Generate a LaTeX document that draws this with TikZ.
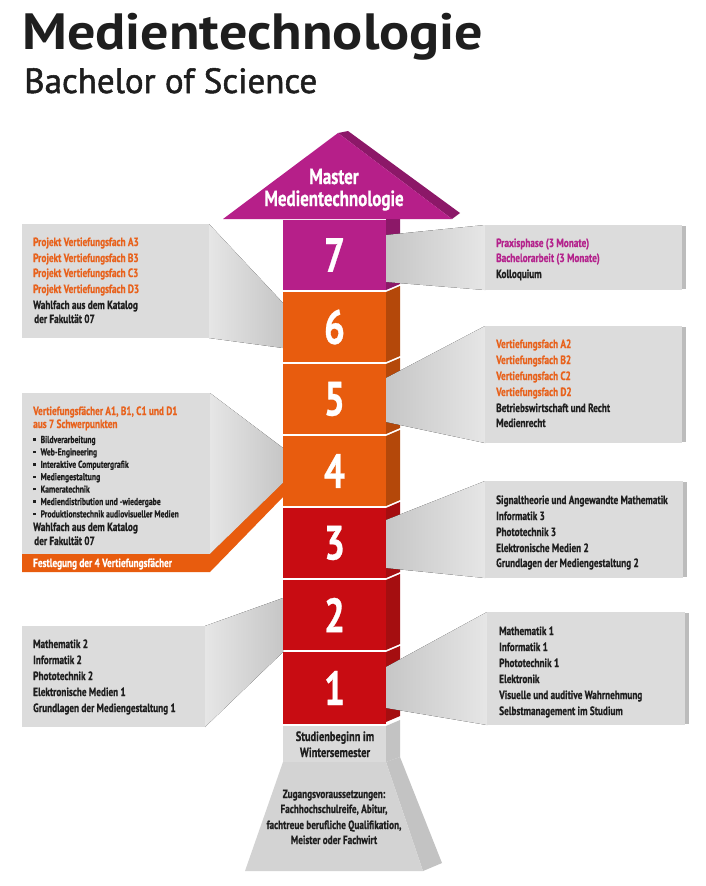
\documentclass[tikz,border=0pt]{standalone}
\usepackage{fontspec}
\setmainfont{PT Sans}
\newfontfamily\cf[FakeStretch=0.77,FakeBold=0.6]{PT Sans Bold}
\newfontfamily\tfont[FakeStretch=1.1]{PT Sans Bold}
\newfontfamily\sfont[FakeBold=1.5]{PT Sans}
\definecolor{mag}{RGB}{182,31,137}
\definecolor{magD}{RGB}{140,24,104}
\definecolor{org}{RGB}{232,92,14}
\definecolor{orgD}{RGB}{180,72,10}
\definecolor{redF}{RGB}{200,12,18}
\definecolor{redD}{RGB}{165,14,16}
\definecolor{boxg}{RGB}{220,220,220}
\definecolor{boxgD}{RGB}{188,188,188}
\definecolor{conD}{RGB}{198,198,198}
\definecolor{conL}{RGB}{230,230,230}
\definecolor{colG}{RGB}{218,218,218}
\definecolor{colGD}{RGB}{195,195,195}
\definecolor{txtO}{RGB}{232,98,28}
\definecolor{txtM}{RGB}{180,34,140}
\definecolor{txtK}{RGB}{30,30,30}
\tikzset{
  txt/.style={anchor=base west, inner sep=0pt, font=\cf\fontsize{12}{14}\selectfont, text=txtK},
  txo/.style={txt, text=txtO},
  txm/.style={txt, text=txtM},
  sm/.style={txt, font=\cf\fontsize{10}{12}\selectfont},
  ctr/.style={anchor=base, inner sep=0pt, font=\cf\fontsize{12}{14}\selectfont, text=txtK},
  ctrb/.style={ctr, font=\cf\fontsize{13.5}{15}\selectfont},
  num/.style={inner sep=0pt, font=\cf\fontsize{48}{48}\selectfont, text=white},
  mst/.style={anchor=base, inner sep=0pt, font=\cf\fontsize{22}{22}\selectfont, text=white},
  boxface/.style={fill=boxg},
  boxside/.style={fill=boxgD},
  conR/.style={left color=conD, right color=conL},
  conLf/.style={left color=conL, right color=conD},
}
\newcommand{\bul}{\rule[2.2pt]{2.4pt}{2.4pt}\hspace{5pt}}
\begin{document}
\begin{tikzpicture}[x=1pt,y=-1pt]
\useasboundingbox (0,0) rectangle (705,886);
\fill[white] (0,0) rectangle (705,886);

% title
\node[anchor=base west, inner sep=0pt, font=\tfont\fontsize{51}{51}\selectfont, text=txtK] (title) at (22,49) {Medientechnologie};
\node[anchor=base west, inner sep=0pt, font=\sfont\fontsize{35}{35}\selectfont, text=txtK] (subtitle) at (24,93) {Bachelor of Science};

% ---------- left callouts (behind column)
% semester 6
\fill[conLf] (209,224) -- (283,303) -- (283,348) -- (209,338) -- cycle;
\fill[boxface] (22,224) rectangle (209,338);
% semester 4
\fill[conLf] (210,393) -- (283,448) -- (283,483) -- (210,554) -- cycle;
\fill[boxface] (22,393) rectangle (210,554);
\fill[org] (22,554) -- (210,554) -- (283,483) -- (283,497) -- (210,572) -- (22,572) -- cycle;
% semester 2
\fill[conLf] (205,626) -- (283,598) -- (283,652) -- (205,727) -- cycle;
\fill[boxface] (22,626) rectangle (205,727);

% ---------- column side faces
\fill[magD] (386,219) -- (400,214) -- (400,284) -- (386,290) -- cycle;
\foreach \t/\c in {292/orgD,364/orgD,436/orgD,508/redD,580/redD,652/redD}{
  \fill[\c] (386,\t) -- (400,\t-6) -- (400,\t+64) -- (386,\t+70) -- cycle;
}
\fill[colGD] (386,726) -- (400,720) -- (400,757) -- (386,762) -- cycle;
\fill[colGD] (386,762) -- (400,757) -- (442,863) -- (423,871) -- cycle;

% ---------- arrow
\fill[magD] (338,133) -- (348,131) -- (460,213) -- (452,219) -- cycle;
\fill[mag] (223,219) -- (338,133) -- (452,219) -- cycle;

% ---------- column front faces
\fill[mag] (283,220) rectangle (386,290);
\fill[org] (283,292) rectangle (386,362);
\fill[org] (283,364) rectangle (386,434);
\fill[org] (283,436) rectangle (386,506);
\fill[redF] (283,508) rectangle (386,578);
\fill[redF] (283,580) rectangle (386,650);
\fill[redF] (283,652) rectangle (386,724);
\fill[colG] (283,726) rectangle (386,762);
\fill[colG!97!black] (283,762) -- (386,762) -- (423,871) -- (245,871) -- cycle;

% ---------- right callouts
\fill[conR] (386,235) -- (485,225) -- (485,290) -- (386,282) -- cycle;
\fill[boxface] (485,225) rectangle (682,290);
\fill[boxside] (682,226) rectangle (686,289);
\fill[conR] (386,378) -- (485,326) -- (485,443) -- (386,422) -- cycle;
\fill[boxface] (485,326) rectangle (682,443);
\fill[boxside] (682,327) rectangle (686,442);
\fill[conR] (386,520) -- (485,481) -- (485,578) -- (386,568) -- cycle;
\fill[boxface] (485,481) rectangle (683,578);
\fill[boxside] (683,482) rectangle (687,577);
\fill[conR] (386,667) -- (487,612) -- (487,725) -- (386,708) -- cycle;
\fill[boxface] (487,612) rectangle (685,725);
\fill[boxside] (685,613) rectangle (689,724);

% ---------- column texts
\node[mst] (master1) at (334,184) {Master};
\node[mst] (master2) at (334,206) {Medientechnologie};
\node[num] (n7) at (334.5,255) {7};
\node[num] (n6) at (334.5,327) {6};
\node[num] (n5) at (334.5,399) {5};
\node[num] (n4) at (334.5,471) {4};
\node[num] (n3) at (334.5,543) {3};
\node[num] (n2) at (334.5,615) {2};
\node[num] (n1) at (334.5,688) {1};
\node[ctrb] (sb1) at (335,741) {Studienbeginn im};
\node[ctrb] (sb2) at (335,757) {Wintersemester};
\node[ctr] (zg1) at (334,798) {Zugangsvoraussetzungen:};
\node[ctr] (zg2) at (334,813) {Fachhochschulreife, Abitur,};
\node[ctr] (zg3) at (334,829) {fachtreue berufliche Qualifikation,};
\node[ctr] (zg4) at (334,844) {Meister oder Fachwirt};

% ---------- left box texts
\node[txo] (l6a) at (33,246) {Projekt Vertiefungsfach A3};
\node[txo] (l6b) at (33,262) {Projekt Vertiefungsfach B3};
\node[txo] (l6c) at (33,277) {Projekt Vertiefungsfach C3};
\node[txo] (l6d) at (33,293) {Projekt Vertiefungsfach D3};
\node[txt] (l6e) at (33,309) {Wahlfach aus dem Katalog};
\node[txt] (l6f) at (34,323) {der Fakultät 07};

\node[txo] (l4a) at (33,415) {Vertiefungsfächer A1, B1, C1 und D1};
\node[txo] (l4b) at (33,428) {aus 7 Schwerpunkten};
\node[sm] (l4c) at (33,443) {\bul Bildverarbeitung};
\node[sm] (l4d) at (33,455.4) {\bul Web-Engineering};
\node[sm] (l4e) at (33,467.8) {\bul Interaktive Computergrafik};
\node[sm] (l4f) at (33,480.2) {\bul Mediengestaltung};
\node[sm] (l4g) at (33,492.6) {\bul Kameratechnik};
\node[sm] (l4h) at (33,505) {\bul Mediendistribution und -wiedergabe};
\node[sm] (l4i) at (33,517.4) {\bul Produktionstechnik audiovisueller Medien};
\node[txt] (l4j) at (33,531) {Wahlfach aus dem Katalog};
\node[txt] (l4k) at (34,545) {der Fakultät 07};
\node[txt, text=white] (l4l) at (33,567) {Festlegung der 4 Vertiefungsfächer};

\node[txt] (l2a) at (33,648) {Mathematik 2};
\node[txt] (l2b) at (33,664) {Informatik 2};
\node[txt] (l2c) at (33,680) {Phototechnik 2};
\node[txt] (l2d) at (33,696) {Elektronische Medien 1};
\node[txt] (l2e) at (33,712) {Grundlagen der Mediengestaltung 1};

% ---------- right box texts
\node[txm] (r7a) at (496,247) {Praxisphase (3 Monate)};
\node[txm] (r7b) at (496,262) {Bachelorarbeit (3 Monate)};
\node[txt] (r7c) at (496,278) {Kolloquium};

\node[txo] (r5a) at (496,348) {Vertiefungsfach A2};
\node[txo] (r5b) at (496,364) {Vertiefungsfach B2};
\node[txo] (r5c) at (496,380) {Vertiefungsfach C2};
\node[txo] (r5d) at (496,396) {Vertiefungsfach D2};
\node[txt] (r5e) at (496,412) {Betriebswirtschaft und Recht};
\node[txt] (r5f) at (496,427) {Medienrecht};

\node[txt] (r3a) at (496,504) {Signaltheorie und Angewandte Mathematik};
\node[txt] (r3b) at (496,520) {Informatik 3};
\node[txt] (r3c) at (496,536) {Phototechnik 3};
\node[txt] (r3d) at (496,552) {Elektronische Medien 2};
\node[txt] (r3e) at (496,567) {Grundlagen der Mediengestaltung 2};

\node[txt] (r1a) at (499,635) {Mathematik 1};
\node[txt] (r1b) at (499,651) {Informatik 1};
\node[txt] (r1c) at (499,667) {Phototechnik 1};
\node[txt] (r1d) at (499,683) {Elektronik};
\node[txt] (r1e) at (499,699) {Visuelle und auditive Wahrnehmung};
\node[txt] (r1f) at (499,715) {Selbstmanagement im Studium};
\end{tikzpicture}
\end{document}
